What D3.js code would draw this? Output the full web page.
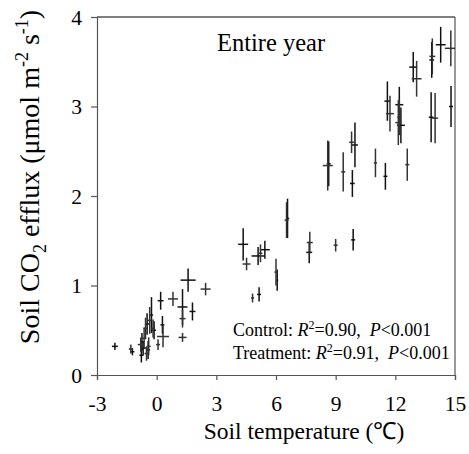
<!DOCTYPE html>
<html><head><meta charset="utf-8">
<script src="https://cdn.jsdelivr.net/npm/d3@7"></script>
<style>body{margin:0;background:#fff}svg{display:block}text{font-family:"Liberation Serif","Times New Roman",serif;fill:#000}</style>
</head><body><svg id="c" width="469" height="454"></svg>
<script>
// Control plots: soil temperature (°C), CO2 efflux, and their SE
const controlTemp   = [-2.1,-1.22,-0.74,-0.68,-0.43,-0.77,-0.48,-0.26,-0.13,0.29,0.2,1.3,1.8,1.58,4.35,5.1,5.44,6.06,5.15,6.58,7.67,9.88,8.65,9.84,9.97,11.5,11.6,12.2,12.28,12.9,13.83,14.28,13.8,14.8];
const controlFlux   = [0.32,0.26,0.37,0.30,0.28,0.22,0.57,0.67,0.50,0.56,0.83,0.76,0.71,1.06,1.46,1.33,1.40,1.06,0.90,1.75,1.37,1.51,2.36,2.14,2.57,2.22,3.06,3.02,2.79,3.44,3.52,3.69,2.88,3.00];
const controlTempSE = [0.15,0.10,0.10,0.15,0.10,0.10,0.10,0.08,0.10,0.10,0.15,0.25,0.15,0.38,0.25,0.33,0.25,0.05,0.10,0.08,0.15,0.10,0.10,0.12,0.15,0.10,0.15,0.20,0.20,0.20,0.12,0.25,0.12,0.10];
const controlFluxSE = [0.04,0.04,0.10,0.08,0.10,0.08,0.12,0.20,0.10,0.10,0.10,0.20,0.10,0.13,0.18,0.10,0.10,0.12,0.08,0.22,0.12,0.12,0.25,0.15,0.25,0.15,0.22,0.20,0.20,0.17,0.20,0.20,0.28,0.23];
// Treatment plots
const treatTemp   = [-1.3,-0.8,-0.63,-0.51,-0.4,-0.56,-0.35,-0.18,0.07,0.32,0.82,1.3,1.3,2.46,4.52,5.22,6.0,4.82,6.53,7.7,9.0,8.6,9.38,9.8,11.0,12.6,11.73,12.15,12.2,13.07,13.86,14.79,14.0];
const treatFlux   = [0.29,0.34,0.41,0.24,0.32,0.52,0.61,0.52,0.34,0.43,0.85,0.63,0.42,0.96,1.24,1.36,1.15,0.86,1.73,1.48,1.45,2.34,2.27,2.60,2.37,2.35,2.92,2.82,2.88,3.31,3.56,3.65,2.87];
const treatTempSE = [0.10,0.15,0.10,0.10,0.10,0.10,0.10,0.10,0.10,0.30,0.25,0.15,0.20,0.25,0.20,0.10,0.08,0.08,0.10,0.15,0.10,0.25,0.10,0.12,0.08,0.10,0.20,0.15,0.10,0.25,0.15,0.30,0.15];
const treatFluxSE = [0.05,0.08,0.12,0.08,0.10,0.12,0.15,0.10,0.06,0.12,0.08,0.10,0.05,0.07,0.07,0.10,0.15,0.05,0.20,0.12,0.07,0.28,0.22,0.12,0.16,0.18,0.20,0.25,0.20,0.20,0.20,0.20,0.28];

const xTicks = [-3,0,3,6,9,12,15];
const yTicks = [0,1,2,3,4];

const svg = d3.select("#c");
const L=97, R=455, T=17, B=375;
const x = d3.scaleLinear().domain([-3,15]).range([L,R]);
const y = d3.scaleLinear().domain([0,4]).range([B,T]);
const SERIF = '"Liberation Serif","Times New Roman",serif';

svg.append("defs").append("clipPath").attr("id","clip")
  .append("rect").attr("x",L).attr("y",T).attr("width",R-L).attr("height",B-T);

// frame
svg.append("line").attr("x1",L).attr("x2",R).attr("y1",T).attr("y2",T).attr("stroke","#000").attr("stroke-width",1.2);
svg.append("line").attr("x1",R).attr("x2",R).attr("y1",T).attr("y2",B).attr("stroke","#555").attr("stroke-width",1.2);

const xAxis = svg.append("g").attr("transform",`translate(0,${B})`)
  .call(d3.axisBottom(x).tickValues(xTicks).tickSize(5).tickPadding(16).tickFormat(d=>String(d)));
const yAxis = svg.append("g").attr("transform",`translate(${L},0)`)
  .call(d3.axisLeft(y).tickValues(yTicks).tickSize(6).tickPadding(9).tickFormat(d=>String(d)));
[xAxis,yAxis].forEach(g=>{
  g.attr("font-family",null).attr("font-size",null);
  g.select(".domain").attr("stroke","#555").attr("stroke-width",1.2);
  g.selectAll(".tick line").attr("stroke","#555").attr("stroke-width",1.2);
  g.selectAll(".tick text").style("font-family",SERIF).style("font-size","21.5px").attr("fill","#000");
});
yAxis.selectAll(".tick text").attr("dy","0.33em");

// points with error bars
function draw(temp, flux, tse, fse, color){
  const data = temp.map((t,i)=>({t, f:flux[i], te:tse[i], fe:fse[i]}));
  const g = svg.append("g").attr("clip-path","url(#clip)").attr("stroke",color).attr("stroke-width",1.5);
  g.selectAll(".v").data(data).join("line")
    .attr("x1",d=>x(d.t)).attr("x2",d=>x(d.t))
    .attr("y1",d=>y(d.f-d.fe)).attr("y2",d=>y(d.f+d.fe));
  g.selectAll(".h").data(data).join("line")
    .attr("x1",d=>x(d.t-d.te)).attr("x2",d=>x(d.t+d.te))
    .attr("y1",d=>y(d.f)).attr("y2",d=>y(d.f));
}
draw(controlTemp, controlFlux, controlTempSE, controlFluxSE, "#111");
draw(treatTemp, treatFlux, treatTempSE, treatFluxSE, "#333");

// labels
svg.append("text").attr("x",271).attr("y",51).attr("text-anchor","middle").style("font-size","24.5px").text("Entire year");

const ann = [["Control: ","0.90"],["Treatment: ","0.91"]];
ann.forEach((a,i)=>{
  const t = svg.append("text").attr("x",233).attr("y",336+i*22.5).style("font-size","18px");
  t.append("tspan").text(a[0]);
  t.append("tspan").attr("font-style","italic").text("R");
  t.append("tspan").style("font-size","12px").attr("dy",-7).text("2");
  t.append("tspan").attr("dy",7).text("="+a[1]+",\u00a0 ");
  t.append("tspan").attr("font-style","italic").text("P");
  t.append("tspan").text("<0.001");
});

svg.append("text").attr("x",304).attr("y",439).attr("text-anchor","middle").style("font-size","23.5px").text("Soil temperature (\u2103)");

const yt = svg.append("text").attr("transform","translate(39,177) rotate(-90)").attr("text-anchor","middle").style("font-size","28px");
yt.append("tspan").text("Soil CO");
yt.append("tspan").style("font-size","18px").attr("dy",7).text("2");
yt.append("tspan").attr("dy",-7).text(" efflux (\u03bcmol m");
yt.append("tspan").style("font-size","18px").attr("dy",-11).text("-2");
yt.append("tspan").attr("dy",11).text(" s");
yt.append("tspan").style("font-size","18px").attr("dy",-11).text("-1");
yt.append("tspan").attr("dy",11).text(")");
</script></body></html>
